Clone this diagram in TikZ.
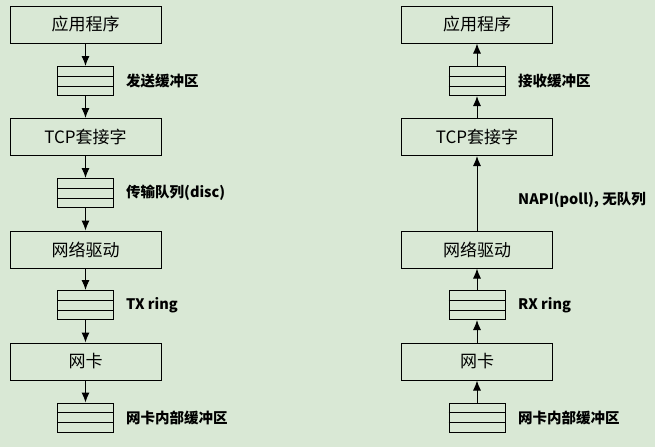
\documentclass[tikz,border=0pt]{standalone}
\usepackage{fontspec}
\setmainfont{Noto Sans CJK SC}
\usetikzlibrary{arrows.meta,calc}
\definecolor{bgpaper}{RGB}{217,232,213}
\tikzset{
  layer/.style={draw,line width=1pt,minimum width=151pt,minimum height=37pt,
    inner sep=0pt,font=\fontsize{17}{20}\selectfont},
  queue/.style={draw,line width=1pt,minimum width=56pt,minimum height=29pt,inner sep=0pt},
  qlabel/.style={anchor=west,inner sep=0pt,font=\fontsize{14.5}{17}\selectfont\bfseries},
  flow/.style={line width=1pt,-{Latex[length=10pt,width=8pt]}}
}
\begin{document}
\begin{tikzpicture}[x=1pt,y=-1pt]
\fill[bgpaper] (0,0) rectangle (655,447);
\useasboundingbox (0,0) rectangle (655,447);

% send side
\node[layer] (sapp) at (85.5,24.5) {应用程序};
\node[queue] (sbuf) at (85.5,81) {};
\node[qlabel] (sbuflbl) at (126,81) {发送缓冲区};
\node[layer] (stcp) at (85.5,137) {TCP套接字};
\node[queue] (sdisc) at (85.5,193) {};
\node[qlabel] (sdisclbl) at (126,193) {传输队列(disc)};
\node[layer] (sdrv) at (85.5,249.5) {网络驱动};
\node[queue] (stx) at (85.5,305) {};
\node[qlabel] (stxlbl) at (126,305) {TX ring};
\node[layer] (snic) at (85.5,361.5) {网卡};
\node[queue] (snbuf) at (85.5,417.5) {};
\node[qlabel] (snbuflbl) at (126,417.5) {网卡内部缓冲区};

\draw[flow] (sapp) -- (sbuf);
\draw[flow] (sbuf) -- (stcp);
\draw[flow] (stcp) -- (sdisc);
\draw[flow] (sdisc) -- (sdrv);
\draw[flow] (sdrv) -- (stx);
\draw[flow] (stx) -- (snic);
\draw[flow] (snic) -- (snbuf);

% receive side
\node[layer] (rapp) at (477,24.5) {应用程序};
\node[queue] (rbuf) at (477,81) {};
\node[qlabel] (rbuflbl) at (518,81) {接收缓冲区};
\node[layer] (rtcp) at (477,137) {TCP套接字};
\node[qlabel] (napi) at (518,200) {NAPI(poll), 无队列};
\node[layer] (rdrv) at (477,249.5) {网络驱动};
\node[queue] (rrx) at (477,305) {};
\node[qlabel] (rrxlbl) at (518,305) {RX ring};
\node[layer] (rnic) at (477,361.5) {网卡};
\node[queue] (rnbuf) at (477,417.5) {};
\node[qlabel] (rnbuflbl) at (518,417.5) {网卡内部缓冲区};

\draw[flow] (rnbuf) -- (rnic);
\draw[flow] (rnic) -- (rrx);
\draw[flow] (rrx) -- (rdrv);
\draw[flow] (rdrv) -- (rtcp);
\draw[flow] (rtcp) -- (rbuf);
\draw[flow] (rbuf) -- (rapp);

% rows inside the queues
\foreach \q in {sbuf,sdisc,stx,snbuf,rbuf,rrx,rnbuf} {
  \draw[line width=1pt] ($(\q.north west)!1/3!(\q.south west)$) -- ($(\q.north east)!1/3!(\q.south east)$);
  \draw[line width=1pt] ($(\q.north west)!2/3!(\q.south west)$) -- ($(\q.north east)!2/3!(\q.south east)$);
}
\end{tikzpicture}
\end{document}
